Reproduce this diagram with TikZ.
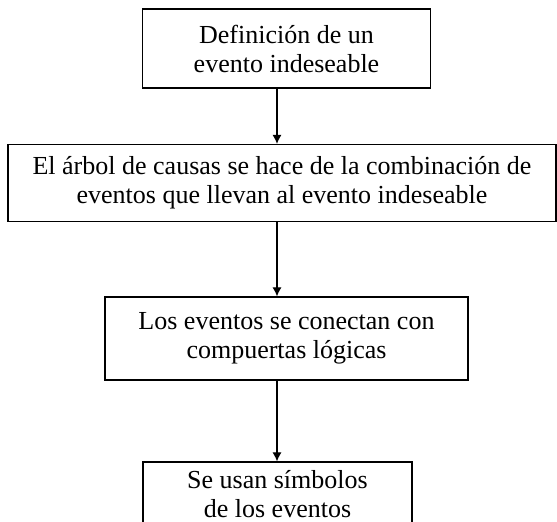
\documentclass[tikz,border=0pt]{standalone}
\usepackage{fontspec}
\setmainfont{Liberation Serif}
\usetikzlibrary{arrows.meta}
\tikzset{
  paso/.style={draw, line width=1.2pt, align=center, inner sep=0pt,
    font=\fontsize{26}{29}\selectfont},
  flecha/.style={-{Latex[length=9pt,width=9pt]}, line width=1.1pt}
}
\begin{document}
\begin{tikzpicture}[x=1pt,y=1pt]
\clip (0,0) rectangle (557,522);
\useasboundingbox (0,0) rectangle (557,522);
\coordinate (eje) at (277,0);
\node[paso, minimum width=288pt, minimum height=79pt] (definicion) at (286.5,473.5)
  {Definición de un\\evento indeseable};
\node[paso, minimum width=548pt, minimum height=77pt] (arbol) at (282,339)
  {El árbol de causas se hace de la combinación de\\eventos que llevan al evento indeseable};
\node[paso, minimum width=363pt, minimum height=83pt] (compuertas) at (286.5,183.5)
  {Los eventos se conectan con\\compuertas lógicas};
\node[paso, minimum width=269pt, minimum height=64pt] (simbolos) at (277.5,28)
  {Se usan símbolos\\de los eventos};
\draw[flecha] (definicion.south -| eje) -- (arbol.north -| eje);
\draw[flecha] (arbol.south -| eje) -- (compuertas.north -| eje);
\draw[flecha] (compuertas.south -| eje) -- (simbolos.north -| eje);
\end{tikzpicture}
\end{document}
